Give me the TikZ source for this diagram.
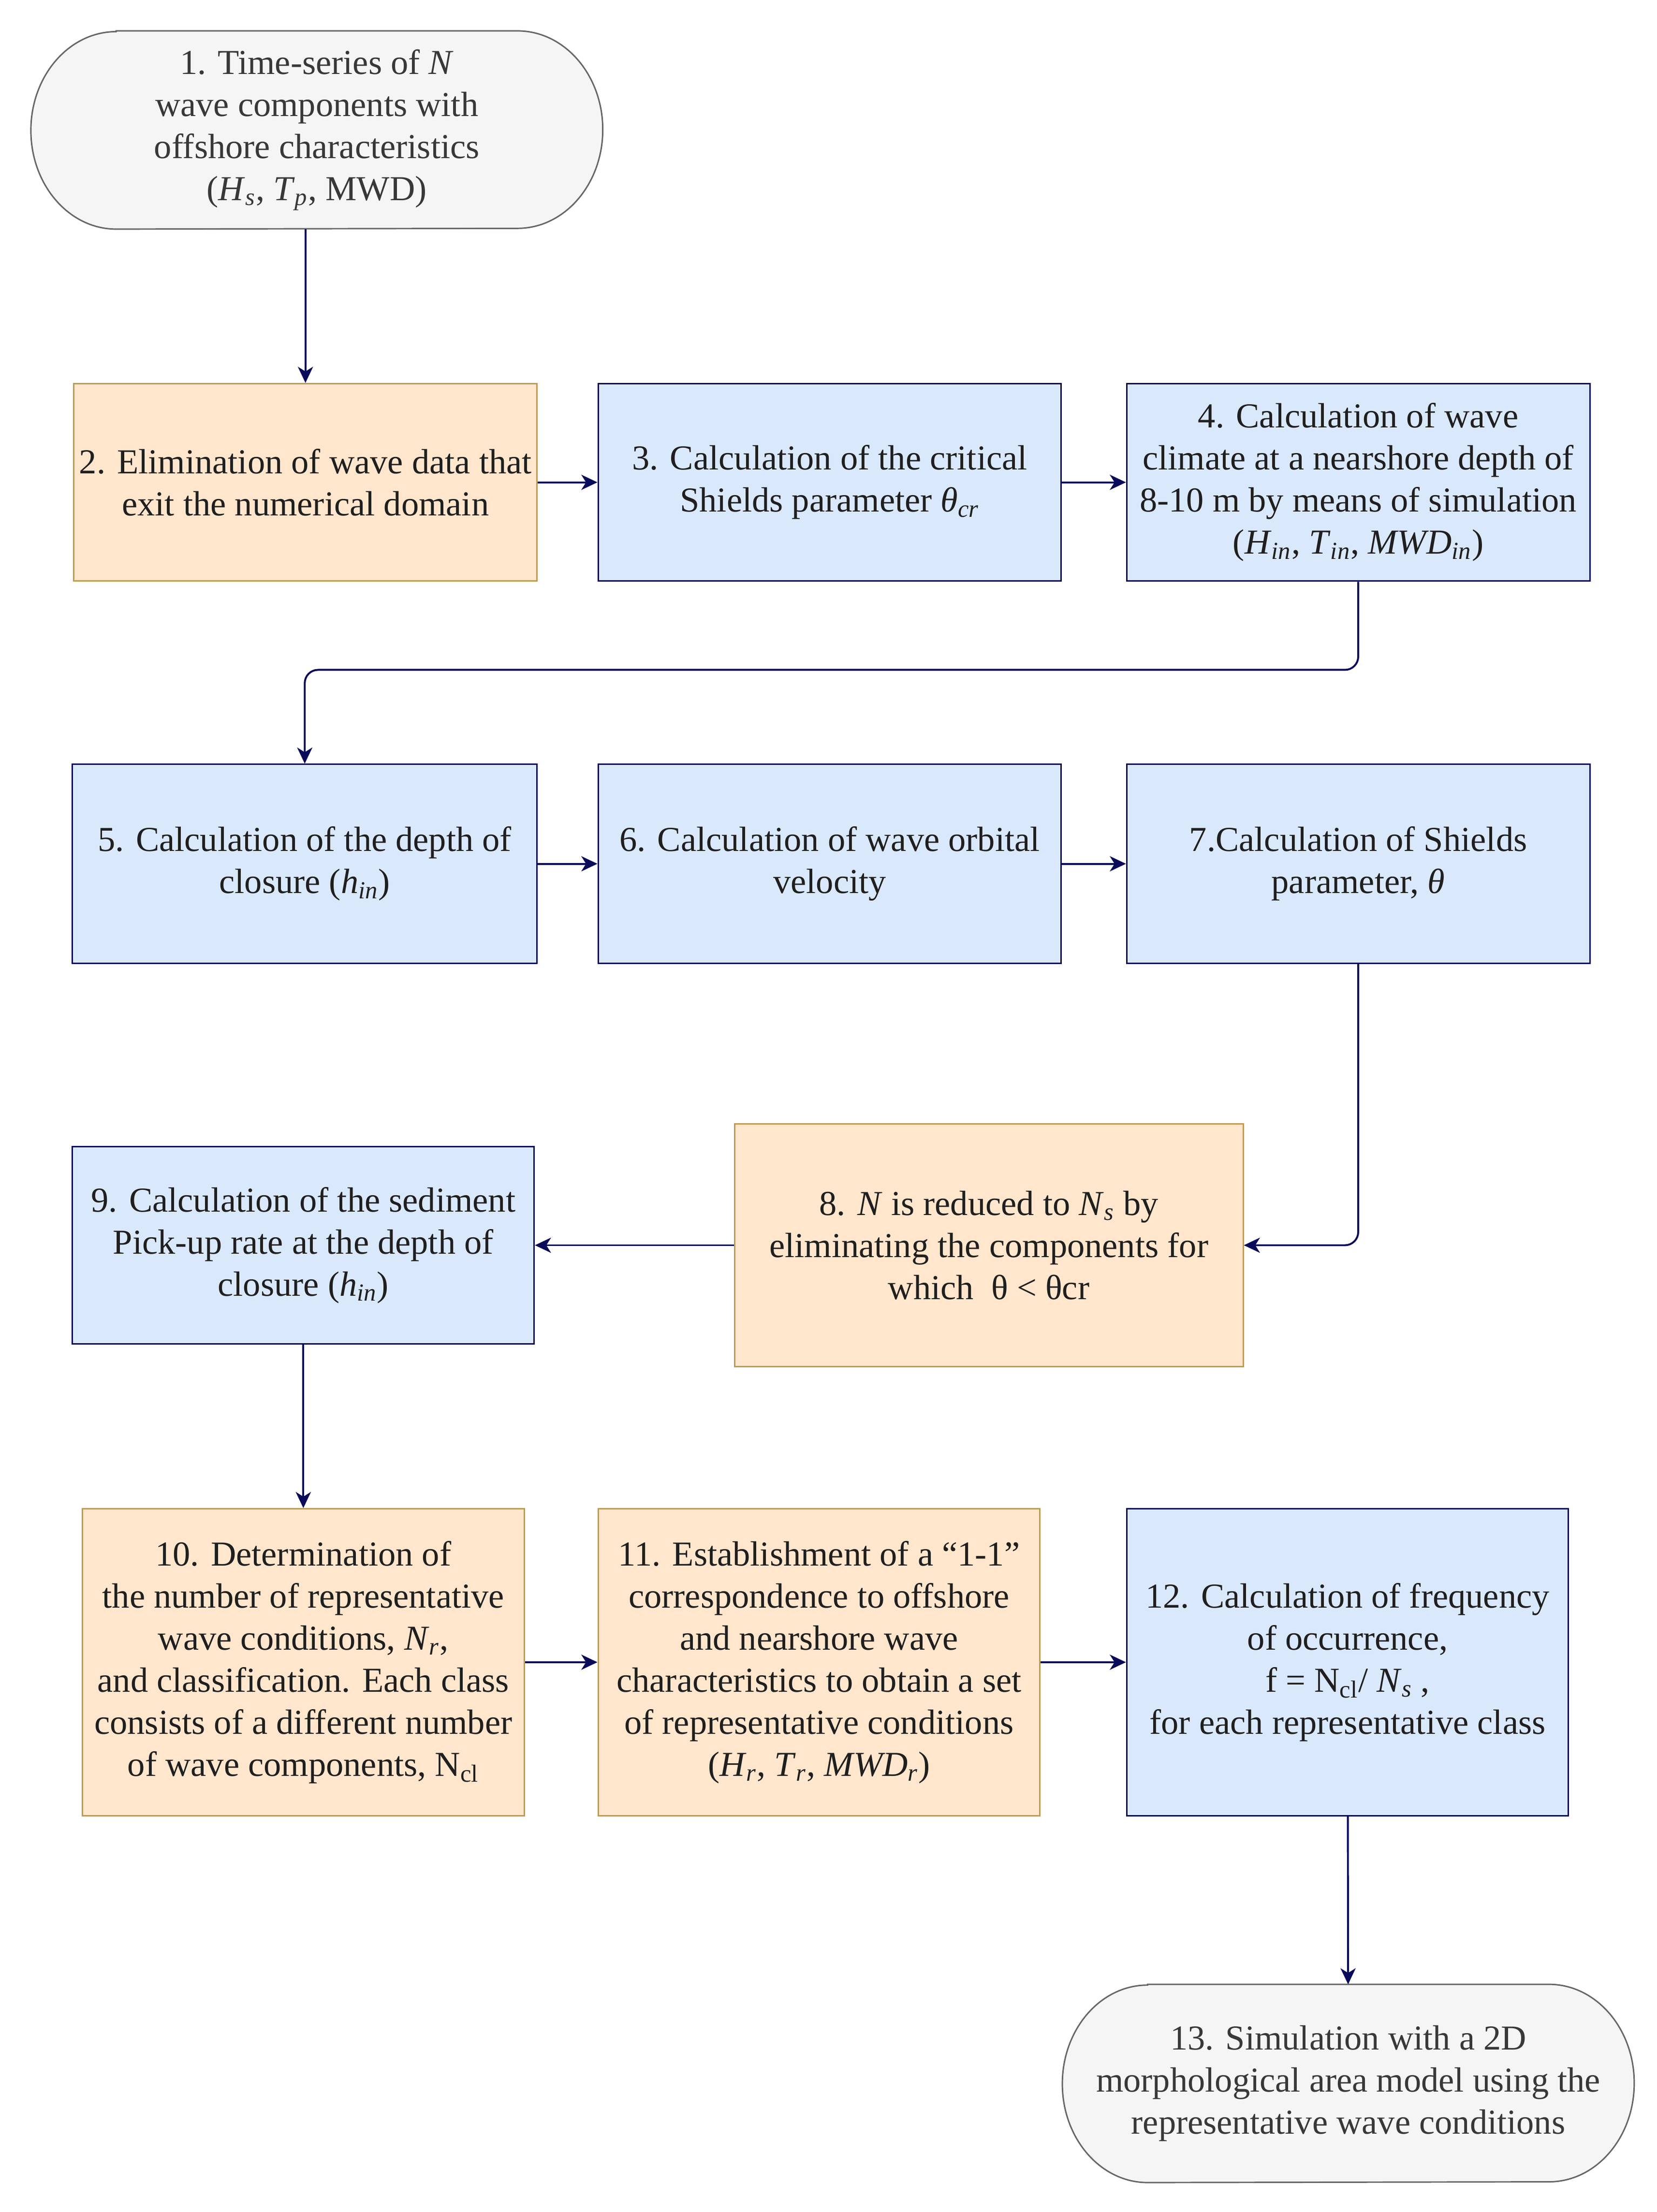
\documentclass[tikz,border=0pt]{standalone}
\usepackage{fontspec}
\setmainfont{Liberation Serif}
\usetikzlibrary{arrows.meta,positioning}
\pgfdeclarelayer{background}
\pgfsetlayers{background,main}

\definecolor{navyline}{RGB}{10,10,90}
\definecolor{bluefill}{RGB}{218,232,252}
\definecolor{orangefill}{RGB}{255,230,204}
\definecolor{orangeline}{RGB}{190,155,80}
\definecolor{greyfill}{RGB}{245,245,245}
\definecolor{greyline}{RGB}{102,102,102}

\tikzset{
  boxtext/.style={inner sep=0.75pt, align=center, font=\fontsize{18.5}{22.2}\selectfont, text=black!88},
  bluebox/.style={boxtext, draw=navyline, fill=bluefill, line width=0.75pt},
  orangebox/.style={boxtext, draw=orangeline, fill=orangefill, line width=0.75pt},
  endtext/.style={boxtext, minimum width=301.5pt, minimum height=104.25pt, text=black!78},
  endline/.style={draw=greyline, fill=greyfill, line width=0.75pt},
  flow/.style={draw=navyline, line width=1pt, -{Stealth[length=8.5pt,width=8pt,inset=2.5pt]}},
}

\begin{document}
\begin{tikzpicture}[x=0.75pt,y=0.75pt,yscale=-1,xscale=1]
%set diagram size
\useasboundingbox (0,0) rectangle (1166,1557);

%Shape: Terminator (text)
\node[endtext] (n1) at (223,91.5) {1. Time-series of \textit{N}\\wave components with\\offshore characteristics\\(\textit{H}\textsubscript{\textit{s}}, \textit{T}\textsubscript{\textit{p}}, MWD)};

%Row 1
\node[orangebox, minimum width=244.5pt, minimum height=104.25pt] (n2) at (215,339.5) {2. Elimination of wave data that\\exit the numerical domain};
\node[bluebox, minimum width=244.5pt, minimum height=104.25pt] (n3) at (584,339.5) {3. Calculation of the critical\\Shields parameter \textit{θ}\textsubscript{\textit{cr}}};
\node[bluebox, minimum width=244.5pt, minimum height=104.25pt] (n4) at (956,339.5) {4. Calculation of wave\\climate at a nearshore depth of\\8-10 m by means of simulation\\(\textit{H}\textsubscript{\textit{in}}, \textit{T}\textsubscript{\textit{in}}, \textit{MWD}\textsubscript{\textit{in}})};

%Row 2
\node[bluebox, minimum width=245.25pt, minimum height=105pt] (n5) at (214.5,608) {5. Calculation of the depth of\\closure (\textit{h}\textsubscript{\textit{in}})};
\node[bluebox, minimum width=244.5pt, minimum height=105pt] (n6) at (584,608) {6. Calculation of wave orbital\\velocity};
\node[bluebox, minimum width=244.5pt, minimum height=105pt] (n7) at (956,608) {7.Calculation of Shields\\parameter, \textit{θ}};

%Row 3
\node[orangebox, minimum width=268.5pt, minimum height=128.25pt] (n8) at (696,876.5) {8. \textit{N} is reduced to \textit{N}\textsubscript{\textit{s}} by\\eliminating the components for\\which~~θ < θcr};
\node[bluebox, minimum width=243.75pt, minimum height=104.25pt] (n9) at (213.5,876.5) {9. Calculation of the sediment\\Pick-up rate at the depth of\\closure (\textit{h}\textsubscript{\textit{in}})};

%Row 4
\node[orangebox, minimum width=233.25pt, minimum height=162pt] (n10) at (213.5,1170) {10. Determination of\\the number of representative\\wave conditions, \textit{N}\textsubscript{\textit{r}},\\and classification. Each class\\consists of a different number\\of wave components, N\textsubscript{cl}};
\node[orangebox, minimum width=233.25pt, minimum height=162pt] (n11) at (576.5,1170) {11. Establishment of a “1-1”\\correspondence to offshore\\and nearshore wave\\characteristics to obtain a set\\of representative conditions\\(\textit{H}\textsubscript{\textit{r}}, \textit{T}\textsubscript{\textit{r}}, \textit{MWD}\textsubscript{\textit{r}})};
\node[bluebox, minimum width=233.25pt, minimum height=162pt] (n12) at (948.5,1170) {12. Calculation of frequency\\of occurrence,\\f = N\textsubscript{cl}/ \textit{N}\textsubscript{\textit{s}} ,\\for each representative class};

%Shape: Terminator (text)
\node[endtext] (n13) at (949,1466.5) {13. Simulation with a 2D\\morphological area model using the\\representative wave conditions};

%Terminator outlines
\begin{pgfonlayer}{background}
\foreach \t in {n1,n13}
  \draw[endline] ([xshift=45pt]\t.north west) -- ([xshift=-45pt]\t.north east) arc[start angle=-90, end angle=90, x radius=45pt, y radius=52.125pt] -- ([xshift=45pt]\t.south west) arc[start angle=90, end angle=270, x radius=45pt, y radius=52.125pt] -- cycle;
\end{pgfonlayer}

%Connectors
\draw[flow] (n2.north |- n1.south) -- (n2.north);
\draw[flow] (n2) -- (n3);
\draw[flow] (n3) -- (n4);
\draw[flow, rounded corners=7pt] (n4.south) -- ++(0,62) -| (n5.north);
\draw[flow] (n5) -- (n6);
\draw[flow] (n6) -- (n7);
\draw[flow, rounded corners=7pt] (n7.south) |- (n8.east);
\draw[flow] (n8) -- (n9);
\draw[flow] (n9) -- (n10);
\draw[flow] (n10) -- (n11);
\draw[flow] (n11) -- (n12);
\draw[flow] (n12) -- (n13);

\end{tikzpicture}
\end{document}
